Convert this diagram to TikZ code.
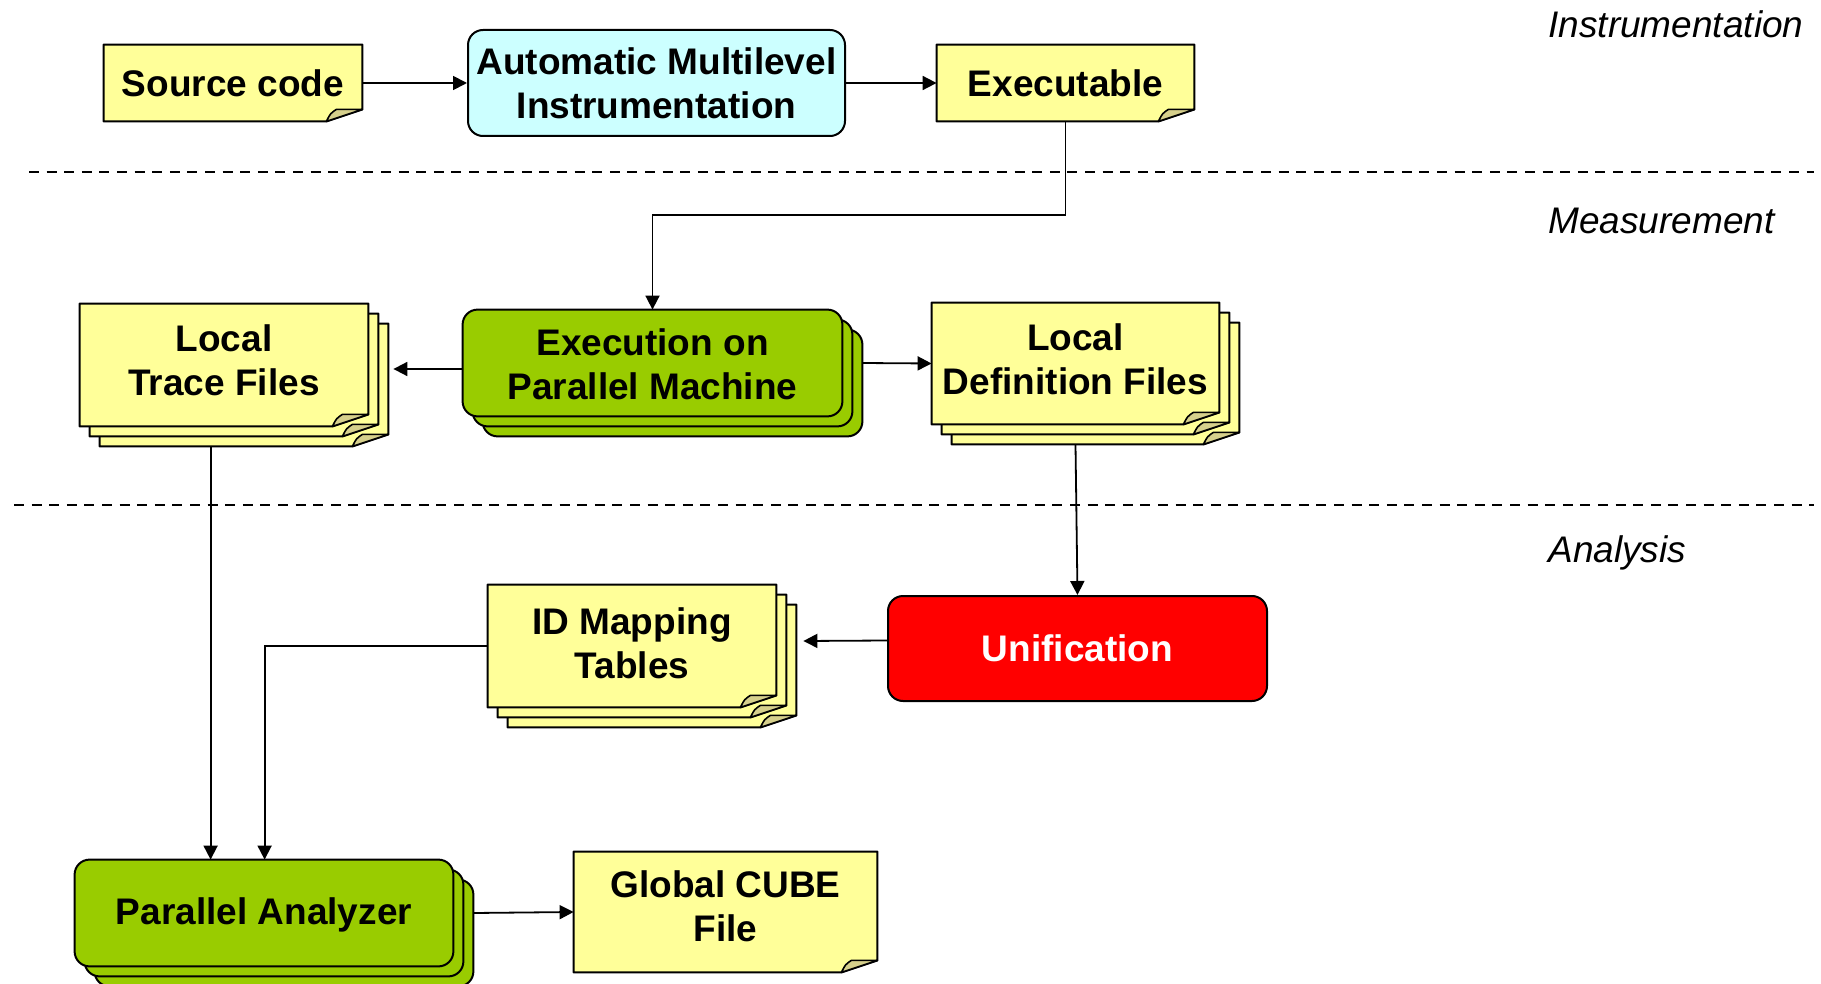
\documentclass[tikz,border=0pt]{standalone}
\usepackage{fontspec}
\setmainfont{Liberation Sans}
\usetikzlibrary{arrows.meta,calc,backgrounds,fit}

\definecolor{notefill}{HTML}{FFFF99}
\definecolor{flapfill}{HTML}{D6D08C}
\definecolor{toolcyan}{HTML}{CCFFFF}
\definecolor{rungreen}{HTML}{99CC00}
\definecolor{unired}{HTML}{FF0000}

\tikzset{
  lbl/.style={font=\fontsize{18.5}{22}\selectfont\bfseries, align=center, inner sep=0pt},
  area/.style={inner sep=0pt},
  stage/.style={font=\fontsize{18.5}{22}\selectfont\itshape, anchor=west, inner sep=0pt},
  page/.style={draw=black, line width=1pt, fill=notefill, line join=round},
  flap/.style={draw=black, line width=0.8pt, fill=flapfill, line join=round},
  roundbox/.style={draw=black, line width=1pt, rounded corners=7.5pt},
  conn/.style={draw=black, line width=0.9pt, -{Triangle[length=7pt,width=7pt]}},
  sep/.style={draw=black, line width=0.7pt, dash pattern=on 5pt off 3.8pt},
}

% one sheet with a folded lower right corner, shifted by #2 from node #1
\newcommand\notesheet[2]{%
  \coordinate (nw) at ($(#1.north west)+(#2,#2)$);
  \coordinate (se) at ($(#1.south east)+(#2,#2)$);
  \draw[page] (nw) -- (nw -| se) -- ($(se)+(0,-12)$) -- ($(se)+(-36,0)$) -- (nw |- se) -- cycle;
  \draw[flap] ($(se)+(-36,0)$) .. controls ($(se)+(-32,-8)$) .. ($(se)+(-26,-12)$) -- ($(se)+(0,-12)$) -- cycle;
}
% three stacked sheets behind node #1
\newcommand\notestack[1]{\notesheet{#1}{20}\notesheet{#1}{10}\notesheet{#1}{0}}
% three stacked rounded boxes behind node #1
\newcommand\boxstack[2]{%
  \foreach \k in {20,10,0}{%
    \draw[roundbox, fill=#2] ($(#1.north west)+(\k,\k)$) rectangle ($(#1.south east)+(\k,\k)$);
  }%
}

\begin{document}
\begin{tikzpicture}[x=0.5pt, y=-0.5pt]
\useasboundingbox (0,0) rectangle (1821,984);

% section separators and stage names
\draw[sep] (29,172) -- (1814,172);
\draw[sep] (14,505) -- (1814,505);
\node[stage] (st1) at (1548,24) {Instrumentation};
\node[stage] (st2) at (1548,221) {Measurement};
\node[stage] (st3) at (1548,553) {Analysis};

% node areas
\node[area, fit={(104,45) (362,121)}] (src) {};
\node[area, roundbox, fill=toolcyan, fit={(468,30) (845,136)}] (ami) {};
\node[area, fit={(937,45) (1194,121)}] (exe) {};
\node[area, fit={(463,310) (842,416)}] (exec) {};
\node[area, fit={(80,304) (368,426)}] (trace) {};
\node[area, fit={(932,303) (1219,424)}] (def) {};
\node[area, roundbox, fill=unired, fit={(888,596) (1267,701)}] (unif) {};
\node[area, fit={(488,585) (776,707)}] (idm) {};
\node[area, fit={(75,860) (453,966)}] (pa) {};
\node[area, fit={(574,852) (877,972)}] (glob) {};

% shapes behind the texts
\begin{pgfonlayer}{background}
  \notesheet{src}{0}
  \notesheet{exe}{0}
  \notesheet{glob}{0}
  \notestack{trace}
  \notestack{def}
  \notestack{idm}
  \boxstack{exec}{rungreen}
  \boxstack{pa}{rungreen}
\end{pgfonlayer}

% texts
\node[lbl] (src-t) at (src.center) {Source code};
\node[lbl] (ami-t) at (ami.center) {Automatic Multilevel\\Instrumentation};
\node[lbl] (exe-t) at (exe.center) {Executable};
\node[lbl] (exec-t) at ($(exec.center)+(0,1)$) {Execution on\\Parallel Machine};
\node[lbl] (trace-t) at ($(trace.center)+(0,-5)$) {Local\\Trace Files};
\node[lbl] (def-t) at ($(def.center)+(0,-4)$) {Local\\Definition Files};
\node[lbl, text=white] (unif-t) at (unif.center) {Unification};
\node[lbl] (idm-t) at ($(idm.center)+(0,-3)$) {ID Mapping\\Tables};
\node[lbl] (pa-t) at ($(pa.center)+(0,2)$) {Parallel Analyzer};
\node[lbl] (glob-t) at ($(glob.center)+(0,-6)$) {Global CUBE\\File};

% connectors
\draw[conn] (src.east) -- (ami.west);
\draw[conn] (ami.east) -- (exe.west);
\draw[conn] (exe.south) -- ++(0,94) -| (exec.north);
\draw[conn] ($(exec.west)+(0,6)$) -- ($(trace.east)+(25,4)$);
\draw[conn] ($(exec.east)+(20,0)$) -- (def.west);
\draw[conn] ($(def.south)+(0,20)$) -- (unif.north);
\draw[conn] ($(unif.west)+(0,-8)$) -- ($(idm.east)+(27,-5)$);
\draw[conn] (idm.west) -| ($(pa.north west)+(190,0)$);
\draw[conn] ($(trace.south west)+(131,20)$) -- ($(pa.north west)+(136,0)$);
\draw[conn] ($(pa.east)+(20,0)$) -- (glob.west);
\end{tikzpicture}
\end{document}
